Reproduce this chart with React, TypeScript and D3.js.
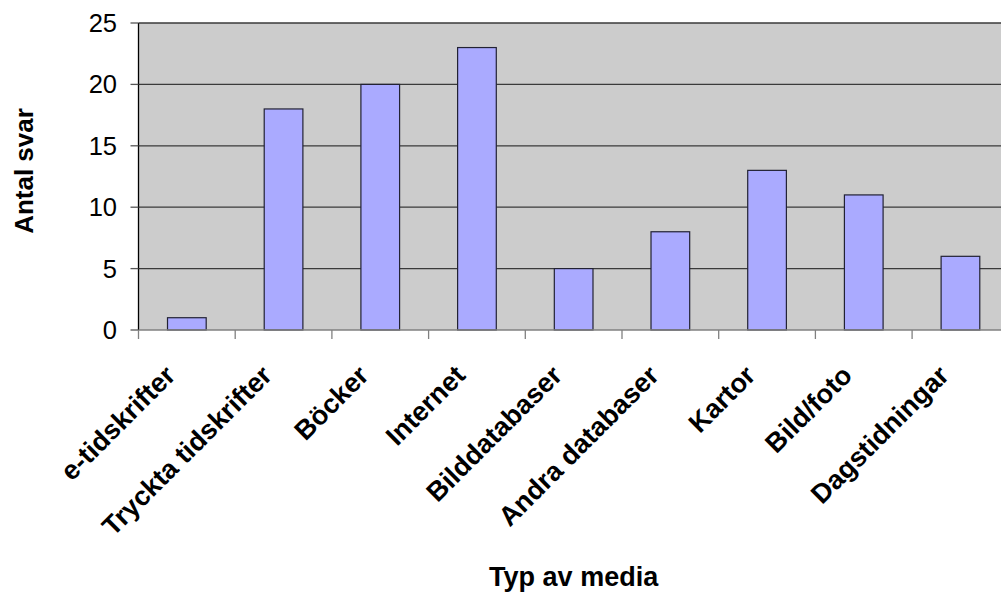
import React from "react";
import * as d3 from "d3";

const categories = [
  "e-tidskrifter",
  "Tryckta tidskrifter",
  "Böcker",
  "Internet",
  "Bilddatabaser",
  "Andra databaser",
  "Kartor",
  "Bild/foto",
  "Dagstidningar",
];
const answers = [1, 18, 20, 23, 5, 8, 13, 11, 6];
const yTicks = [0, 5, 10, 15, 20, 25];
const xTitle = "Typ av media";
const yTitle = "Antal svar";

const W = 1001;
const H = 599;
const plot = { left: 138.5, right: 1008.8, top: 23, bottom: 330 };
const FONT = "Liberation Sans, Arial, sans-serif";

export default function App() {
  const x = d3
    .scaleBand<string>()
    .domain(categories)
    .range([plot.left, plot.right])
    .paddingInner(0.6)
    .paddingOuter(0.3);
  const band = d3.scaleBand<string>().domain(categories).range([plot.left, plot.right]);
  const y = d3.scaleLinear().domain([0, 25]).range([plot.bottom, plot.top]);

  const boundaries = categories.map((c) => band(c)!).concat([plot.right]);

  return (
    <svg
      width={W}
      height={H}
      style={{ position: "absolute", left: 0, top: 0, display: "block" }}
      fontFamily={FONT}
    >
      <rect x={0} y={0} width={W} height={H} fill="#ffffff" />
      <rect
        x={plot.left}
        y={plot.top}
        width={plot.right - plot.left}
        height={plot.bottom - plot.top}
        fill="#cccccc"
      />
      {/* gridlines */}
      {yTicks
        .filter((t) => t > 0)
        .map((t) => (
          <line
            key={"g" + t}
            x1={plot.left}
            x2={plot.right}
            y1={y(t)}
            y2={y(t)}
            stroke="#3a3a3a"
            strokeWidth={1.3}
          />
        ))}
      {/* bars */}
      {categories.map((c, i) => (
        <rect
          key={c}
          x={x(c)!}
          y={y(answers[i])}
          width={x.bandwidth()}
          height={y(0) - y(answers[i])}
          fill="#aaaaff"
          stroke="#222233"
          strokeWidth={1.2}
        />
      ))}
      {/* axes */}
      <line x1={plot.left} x2={plot.left} y1={plot.top} y2={plot.bottom} stroke="#000" strokeWidth={1.3} />
      <line x1={plot.left} x2={plot.right} y1={plot.bottom} y2={plot.bottom} stroke="#808080" strokeWidth={1.5} />
      {yTicks.map((t) => (
        <g key={"y" + t}>
          <line x1={plot.left - 8} x2={plot.left} y1={y(t)} y2={y(t)} stroke="#555" strokeWidth={1.3} />
          <text x={117} y={y(t)} dy="0.35em" textAnchor="end" fontSize={25.5} fill="#000">
            {t}
          </text>
        </g>
      ))}
      {boundaries.map((b, i) => (
        <line key={"xt" + i} x1={b} x2={b} y1={plot.bottom} y2={plot.bottom + 9} stroke="#808080" strokeWidth={1.3} />
      ))}
      {categories.map((c) => {
        const cx = band(c)! + band.bandwidth() / 2 - 10;
        const cy = 377;
        return (
          <text
            key={"l" + c}
            x={cx}
            y={cy}
            transform={`rotate(-45 ${cx} ${cy})`}
            textAnchor="end"
            fontSize={27}
            fontWeight="bold"
            fill="#000"
          >
            {c}
          </text>
        );
      })}
      <text
        x={(plot.left + plot.right) / 2}
        y={586}
        textAnchor="middle"
        fontSize={27}
        fontWeight="bold"
        fill="#000"
      >
        {xTitle}
      </text>
      <text
        x={33}
        y={171}
        transform={`rotate(-90 33 171)`}
        textAnchor="middle"
        fontSize={26}
        fontWeight="bold"
        fill="#000"
      >
        {yTitle}
      </text>
    </svg>
  );
}
